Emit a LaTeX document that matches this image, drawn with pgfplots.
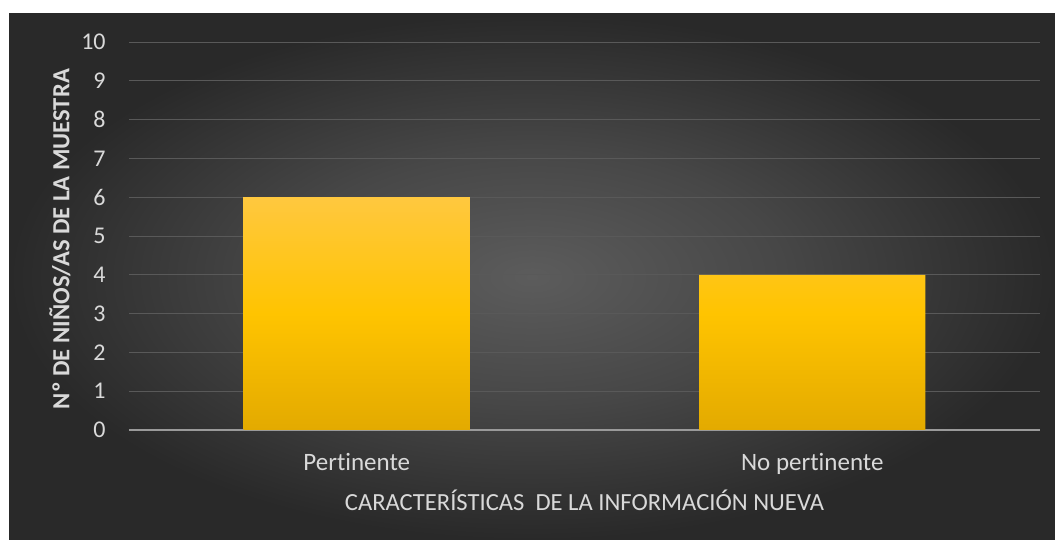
\documentclass[border=0pt]{standalone}
\usepackage{pgfplots}
\pgfplotsset{compat=1.18}
\usepackage{fontspec}
\setmainfont{Carlito}[Ligatures=NoCommon]
\definecolor{bgA}{HTML}{5C5C5C}
\definecolor{bgB}{HTML}{474747}
\definecolor{bgC}{HTML}{292929}
\definecolor{gridc}{HTML}{595959}
\definecolor{axc}{HTML}{9A9A9A}
\definecolor{txt}{HTML}{D9D9D9}
\definecolor{barT}{HTML}{FFC83F}
\definecolor{barM}{HTML}{FFC400}
\definecolor{barB}{HTML}{E3AA00}
\pgfdeclareradialshading{bgshade}{\pgfpoint{0bp}{0bp}}{color(0bp)=(bgA); color(12bp)=(bgB); color(25bp)=(bgC); color(50bp)=(bgC)}
\begin{document}
\begin{tikzpicture}
\useasboundingbox (0,0) rectangle (527.5pt,270pt);
\fill[white] (0,0) rectangle (527.5pt,270pt);
\shade[shading=bgshade] (4.5pt,0) rectangle (527.5pt,263pt);
\begin{axis}[
  at={(64.5pt,55pt)}, anchor=south west,
  scale only axis, width=455.5pt, height=194pt,
  xmin=-0.5, xmax=1.5, ymin=0, ymax=10,
  xtick={0,1}, xticklabels={Pertinente,No pertinente},
  ytick={0,1,...,10},
  axis x line*=bottom, axis y line*=left,
  x axis line style={draw=axc, line width=0.75pt, -},
  y axis line style={draw=none},
  major tick length=0pt,
  ymajorgrids, grid style={draw=gridc, line width=0.45pt},
  tick label style={font=\fontsize{12}{14}\selectfont, text=txt},
  /pgf/number format/assume math mode=true,
  yticklabel style={anchor=east, inner sep=0pt, xshift=-11.5pt},
  xticklabel style={anchor=base, inner sep=0pt, yshift=-20.5pt, font=\fontsize{12.5}{14}\selectfont},
  xlabel={CARACTERÍSTICAS\ \ DE LA INFORMACIÓN NUEVA},
  ylabel={Nº DE NIÑOS/AS DE LA MUESTRA},
  xlabel style={at={(axis description cs:0.5,-0.1804)}, anchor=center, font=\fontsize{12.3}{14}\selectfont, text=txt},
  ylabel style={at={(axis description cs:-0.0757,0.492)}, anchor=center, rotate=0, font=\bfseries\fontsize{12.3}{14}\selectfont, text=txt},
  clip=false,
]
\addplot[ybar, bar width=0.497, draw=none, top color=barT, bottom color=barB, middle color=barM] coordinates {(0,6) (1,4)};
\end{axis}
\end{tikzpicture}
\end{document}
